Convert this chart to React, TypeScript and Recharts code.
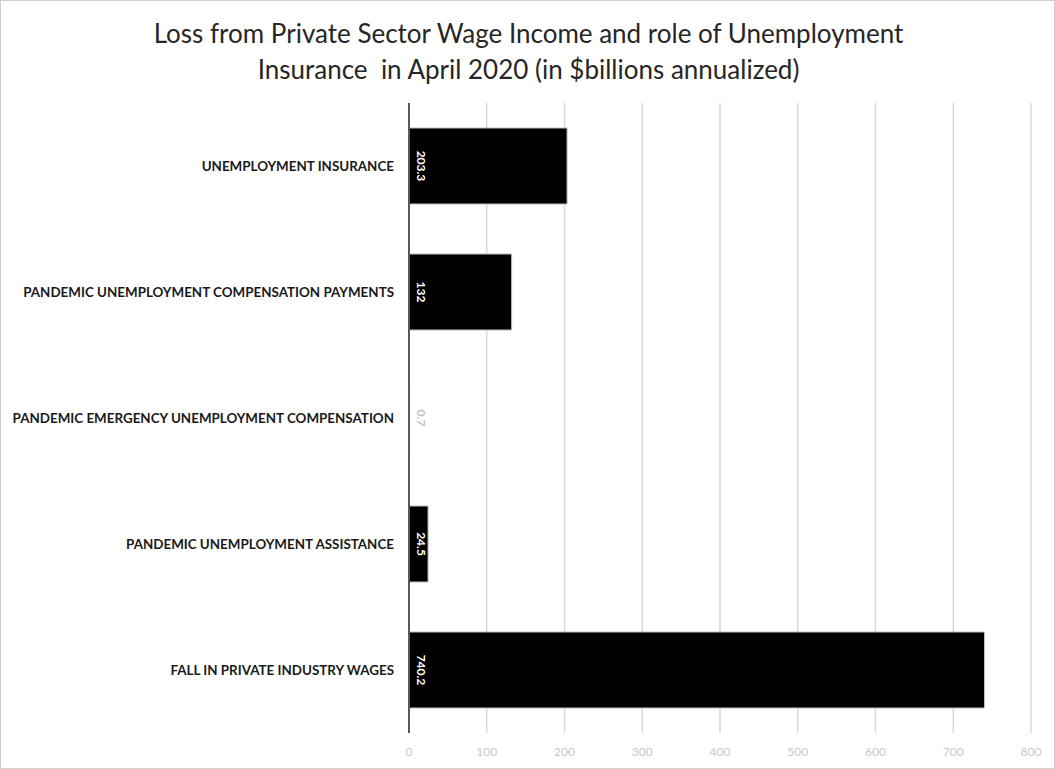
import { BarChart, Bar, XAxis, YAxis, CartesianGrid, LabelList } from 'recharts';

const categories = [
  'UNEMPLOYMENT INSURANCE',
  'PANDEMIC UNEMPLOYMENT COMPENSATION PAYMENTS',
  'PANDEMIC EMERGENCY UNEMPLOYMENT COMPENSATION',
  'PANDEMIC UNEMPLOYMENT ASSISTANCE',
  'FALL IN PRIVATE INDUSTRY WAGES',
];
const values = [203.3, 132, 0.7, 24.5, 740.2];
const xTicks = [0, 100, 200, 300, 400, 500, 600, 700, 800];

const titleLines = [
  'Loss from Private Sector Wage Income and role of Unemployment',
  'Insurance  in April 2020 (in $billions annualized)',
];

const data = categories.map((name, i) => ({ name, value: values[i] }));

const FONT = 'Lato, "Open Sans", sans-serif';

// rotated value label, sits just inside the bar's left end
function BarValueLabel(props: any) {
  const { x, y, width, height, value } = props;
  const cx = x + 12;
  const cy = y + height / 2;
  const tiny = width < 10;
  return (
    <text
      x={cx}
      y={cy}
      transform={`rotate(90 ${cx} ${cy})`}
      textAnchor="middle"
      dominantBaseline="central"
      fontFamily={FONT}
      fontSize={12}
      fontWeight={700}
      fill={tiny ? '#c4c4c4' : '#ffffff'}
    >
      {value}
    </text>
  );
}

// single-line category label (no wrapping)
function CategoryTick(props: any) {
  const { x, y, payload } = props;
  return (
    <text
      x={x}
      y={y}
      textAnchor="end"
      dominantBaseline="central"
      fontFamily={FONT}
      fontSize={13.4}
      fontWeight={700}
      fill="#1a1a1a"
    >
      {payload.value}
    </text>
  );
}

export default function App() {
  return (
    <div
      style={{
        position: 'absolute',
        left: 0,
        top: 0,
        width: 1055,
        height: 769,
        boxSizing: 'border-box',
        border: '1px solid #cfcfcf',
        background: '#fff',
      }}
    >
      <div
        style={{
          position: 'absolute',
          left: 0,
          top: 14,
          width: 1055,
          textAlign: 'center',
          fontFamily: FONT,
          fontSize: 26,
          lineHeight: '36px',
          color: '#262626',
        }}
      >
        {titleLines.map((l, i) => (
          <div key={i} style={{ whiteSpace: 'pre' }}>{l}</div>
        ))}
      </div>
      <div style={{ position: 'absolute', left: -1, top: -1 }}>
        <BarChart
          width={1055}
          height={769}
          data={data}
          layout="vertical"
          margin={{ top: 103, right: 24, left: 0, bottom: 6 }}
        >
          <CartesianGrid horizontal={false} vertical={true} stroke="#d9d9d9" strokeWidth={1.5} />
          <XAxis
            type="number"
            domain={[0, 800]}
            ticks={xTicks}
            axisLine={false}
            tickLine={false}
            tickMargin={8}
            height={30}
            tick={{ fill: '#c8c8c8', fontSize: 12, fontFamily: FONT }}
          />
          <YAxis
            type="category"
            dataKey="name"
            width={409}
            axisLine={{ stroke: '#595959', strokeWidth: 2 }}
            tickLine={false}
            tickMargin={9}
            tick={CategoryTick}
          />
          <Bar
            dataKey="value"
            fill="#000000"
            stroke="#bdbdbd"
            strokeWidth={1}
            barSize={76}
            isAnimationActive={false}
          >
            <LabelList dataKey="value" content={BarValueLabel} />
          </Bar>
        </BarChart>
      </div>
    </div>
  );
}
